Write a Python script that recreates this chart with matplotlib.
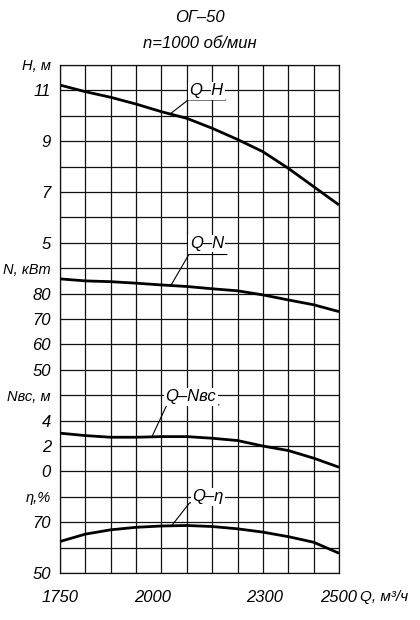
import numpy as np
import matplotlib.pyplot as plt
from matplotlib.lines import Line2D

# flow, m3/h (read at the vertical grid lines)
q = [1750, 1818, 1886, 1955, 2023, 2091, 2159, 2227, 2295, 2364, 2432, 2500]
head = [11.21, 10.95, 10.73, 10.46, 10.16, 9.90, 9.51, 9.07, 8.59, 7.93, 7.21, 6.49]
power = [85.8, 85.0, 84.7, 84.1, 83.4, 82.8, 81.9, 81.1, 79.5, 77.5, 75.6, 72.9]
npsh = [3.01, 2.82, 2.69, 2.69, 2.74, 2.74, 2.61, 2.43, 2.00, 1.64, 1.04, 0.33]
eff = [62.4, 65.3, 67.0, 68.0, 68.5, 68.7, 68.3, 67.4, 66.1, 64.3, 62.1, 57.8]

x_ticks = [1750, 2000, 2300, 2500]

W, H = 420, 620
font = dict(family=['Liberation Sans', 'DejaVu Sans'], style='italic', size=12)

fig = plt.figure(figsize=(W / 100, H / 100), dpi=100)
left, right, top, bottom = 60, 339, 65, 573
rect = [left / W, 1 - bottom / H, (right - left) / W, (bottom - top) / H]

ax_h = fig.add_axes(rect)
ax_h.set_xlim(1750, 2500)
ax_h.set_ylim(-8, 12)
ax_h.xaxis.remove_overlapping_locs = False
ax_h.yaxis.remove_overlapping_locs = False
ax_h.set_xticks(np.linspace(1750, 2500, 12), minor=True)
ax_h.set_yticks(np.arange(-8, 13), minor=True)
ax_h.grid(which='minor', color='#111111', lw=0.9)
ax_h.tick_params(which='minor', length=0)
for s in ax_h.spines.values():
    s.set_linewidth(0.9)
    s.set_color('#111111')
ax_h.set_xticks(x_ticks)
ax_h.set_xticklabels([str(v) for v in x_ticks], **font)
ax_h.tick_params(axis='x', which='major', length=0, pad=12)

# each curve has its own scale on the same grid
ax_n = ax_h.twinx()
ax_v = ax_h.twinx()
ax_e = ax_h.twinx()
scales = [
    (ax_h, (-8, 12), [5, 7, 9, 11, 12], ['5', '7', '9', '11', 'H, м']),
    (ax_n, (-30, 170), [50, 60, 70, 80, 90], ['50', '60', '70', '80', 'N, кВт']),
    (ax_v, (-8, 32), [0, 2, 4, 6], ['0', '2', '4', 'Nвс, м']),
    (ax_e, (50, 250), [50, 70, 80], ['50', '70', 'η,%']),
]
for a, lim, ticks, labels in scales:
    a.set_ylim(*lim)
    a.yaxis.tick_left()
    a.set_yticks(ticks)
    tl = a.set_yticklabels(labels, **font)
    tl[-1].set_fontsize(10.5)  # axis name sits at the top tick
    a.tick_params(axis='y', which='major', length=0, pad=6.5)
    if a is not ax_h:
        for s in a.spines.values():
            s.set_visible(False)

curve_kw = dict(color='black', lw=2.0, solid_joinstyle='round', solid_capstyle='butt')
ax_h.plot(q, head, **curve_kw)
ax_n.plot(q, power, **curve_kw)
ax_v.plot(q, npsh, **curve_kw)
ax_e.plot(q, eff, **curve_kw)

# leader labels: (axis, series, flow at leader foot, elbow dx, dy, underline length, text dx, dy, text)
leaders = [
    (ax_h, head, 2046, 18, 14, 37, 18, 9, 'Q–H'),
    (ax_n, power, 2048, 18, 31, 38, 18, 11, 'Q–N'),
    (ax_v, npsh, 1997, 15, 32, 52, 24, 8, 'Q–Nвс'),
    (ax_e, eff, 2050, 18, 23, 33, 18, 6, 'Q–η'),
]
for a, ys, qa, dx, dy, ln, tx, ty, label in leaders:
    x0, y0 = a.transData.transform((qa, np.interp(qa, q, ys)))
    px = [x0, x0 + dx, x0 + dx + ln]
    py = [y0, y0 + dy, y0 + dy]
    fig.add_artist(Line2D([v / W for v in px], [v / H for v in py],
                          transform=fig.transFigure, color='black', lw=0.8, zorder=5))
    fig.text((x0 + dx + tx) / W, (y0 + dy + ty) / H, label, ha='center', va='center',
             zorder=6, bbox=dict(fc='white', ec='none', pad=1.0), **font)

fig.text(200 / W, 1 - 18 / H, 'ОГ–50', ha='center', va='center', **font)
fig.text(200 / W, 1 - 43 / H, 'n=1000 об/мин', ha='center', va='center', **font)
fig.text(360 / W, 1 - 597 / H, 'Q, м³/ч', ha='left', va='center', **dict(font, size=11))

fig.savefig('out.png', dpi=100)
